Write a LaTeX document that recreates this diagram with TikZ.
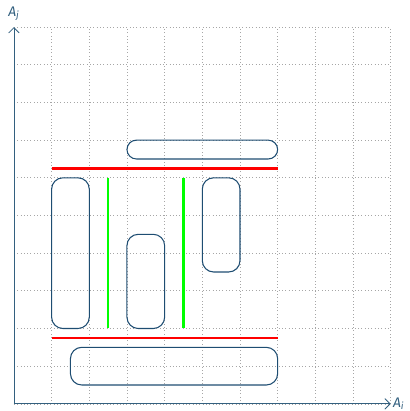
\documentclass[tikz,border=0pt]{standalone}
\usepackage{fontspec}
\setsansfont{Fira Sans}
\usepackage{xcolor}
\usetikzlibrary{arrows.meta, positioning}
\definecolor{axisblue}{HTML}{33607F}
\definecolor{boxblue}{HTML}{1E4D72}
\definecolor{sepred}{HTML}{FF0000}
\definecolor{sepgreen}{HTML}{00FF00}
\newcommand{\rect}[5]{%
  \draw[line width=0.8pt, draw=boxblue, rounded corners=#5cm] (#1,#2) rectangle (#3,#4);}
\newcommand{\hsep}[3]{\draw[line width=1.7pt, sepred] (#1,#3) -- (#2,#3);}
\newcommand{\vsep}[3]{\draw[line width=1.7pt, sepgreen] (#1,#2) -- (#1,#3);}

\begin{document}
\begin{tikzpicture}[every node/.style={font=\sffamily\fontsize{10.5}{12}\selectfont, text=axisblue}]
\useasboundingbox (-0.37,-0.19) rectangle (10.5,10.72);
% grid
\draw[black!35, dotted, line width=0.5pt] (0,0) grid[step=1] (10,10);
% axes
\coordinate (O) at (0,0);
\coordinate (xend) at (10,0);
\coordinate (yend) at (0,10);
\draw[axisblue, line width=0.6pt, -{Straight Barb[length=1.4mm]}] (O) -- (xend);
\draw[axisblue, line width=0.6pt, -{Straight Barb[length=1.4mm]}] (O) -- (yend);
\node[right=0.02 of xend, inner sep=1pt] (xlab) {\textit{A}\textsubscript{\textit{i}}};
\node[above=0.12 of yend, inner sep=1pt] (ylab) {\textit{A}\textsubscript{\textit{j}}};
% rectangles
\rect{3}{6.5}{7}{7}{0.25}
\rect{1}{2}{2}{6}{0.3}
\rect{3}{2}{4}{4.5}{0.3}
\rect{5}{3.5}{6}{6}{0.3}
\rect{1.5}{0.5}{7}{1.5}{0.3}
% separators
\hsep{1}{7}{6.25}
\hsep{1}{7}{1.75}
\vsep{2.5}{2}{6}
\vsep{4.5}{2}{6}
\end{tikzpicture}
\end{document}
